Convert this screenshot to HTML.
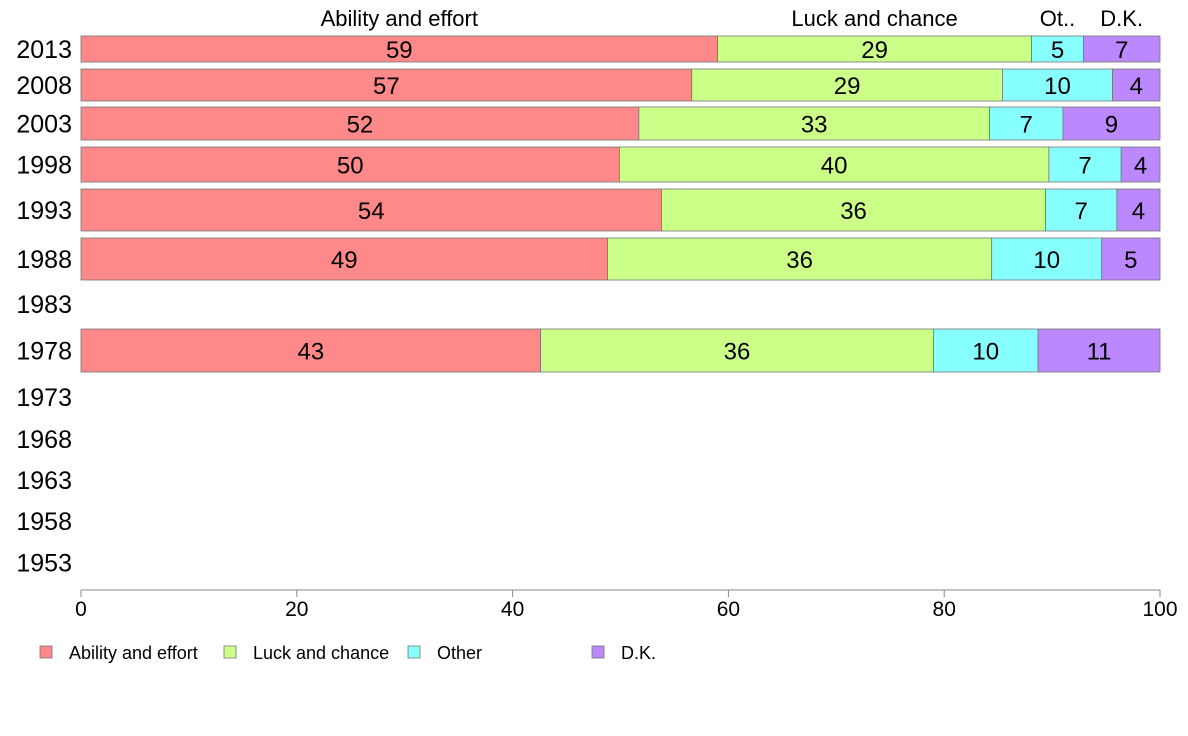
<!DOCTYPE html>
<html><head><meta charset="utf-8"><style>
body{margin:0;background:#fff;font-family:"Liberation Sans",Arial,sans-serif}
svg{display:block}
</style></head><body>
<svg id="chart" width="1188" height="736" xmlns="http://www.w3.org/2000/svg"></svg>
<script>
const years=["2013","2008","2003","1998","1993","1988","1983","1978","1973","1968","1963","1958","1953"];
const ability=[59.0,56.6,51.7,49.9,53.8,48.8,null,42.6,null,null,null,null,null];
const luck=[29.1,28.8,32.5,39.8,35.6,35.6,null,36.4,null,null,null,null,null];
const other=[4.8,10.2,6.8,6.7,6.6,10.2,null,9.7,null,null,null,null,null];
const dk=[7.1,4.4,9.0,3.6,4.0,5.4,null,11.3,null,null,null,null,null];
const seriesNames=["Ability and effort","Luck and chance","Other","D.K."];
const topLabels=["Ability and effort","Luck and chance","Ot..","D.K."];
const xTicks=[0,20,40,60,80,100];
const colors=["#FF8888","#CCFF88","#88FFFF","#BB88FF"];
const rowTop=[36,69,107,147,189,238,285,329,378,420,461,502,543];
const rowBot=[62,101,140,182,231,280,323,372,416,458,499,540,582];
const X0=81,X1=1160;
const x=v=>X0+(X1-X0)*v/100;
const svg=document.getElementById('chart');
const NS="http://www.w3.org/2000/svg";
function mk(t,a,p){const e=document.createElementNS(NS,t);for(const k in a)e.setAttribute(k,a[k]);(p||svg).appendChild(e);return e;}
const series=[ability,luck,other,dk];
years.forEach((yr,i)=>{
  const cy=(rowTop[i]+rowBot[i])/2;
  const t=mk('text',{x:72,y:cy+9,'text-anchor':'end','font-size':25,fill:'#000'});
  
  
  t.textContent=yr;
  if(ability[i]==null)return;
  const total=series.reduce((s,a)=>s+a[i],0);
  let cum=0;
  series.forEach((arr,j)=>{
    const v=arr[i]/total*100;
    const r=mk('rect',{x:x(cum),y:rowTop[i],width:x(cum+v)-x(cum),height:rowBot[i]-rowTop[i],fill:colors[j],stroke:'#777','stroke-width':0.8});
    
    
    const tx=mk('text',{x:(x(cum)+x(cum+v))/2,y:cy+9,'text-anchor':'middle','font-size':24,fill:'#000'});
    
    
    tx.textContent=Math.round(arr[i]);
    if(i===0){
      const tl=mk('text',{x:(x(cum)+x(cum+v))/2,y:26,'text-anchor':'middle','font-size':22,fill:'#000'});
      
      
      tl.textContent=topLabels[j];
    }
    cum+=v;
  });
});
const ax=mk('line',{x1:X0,x2:X1,y1:590,y2:590,stroke:'#888','stroke-width':1});


xTicks.forEach(v=>{
  const tk=mk('line',{x1:x(v),x2:x(v),y1:590,y2:597,stroke:'#888'});
  
  
  const tl=mk('text',{x:x(v),y:616,'text-anchor':'middle','font-size':21,fill:'#000'});
  
  
  tl.textContent=v;
});
const legX=[40,224,408,592];
seriesNames.forEach((n,j)=>{
  const r=mk('rect',{x:legX[j],y:646,width:12,height:12,fill:colors[j],stroke:'#777','stroke-width':0.8});
  
  
  const t=mk('text',{x:legX[j]+29,y:659,'font-size':18,fill:'#000'});
  
  
  t.textContent=n;
});
</script>
</body></html>
